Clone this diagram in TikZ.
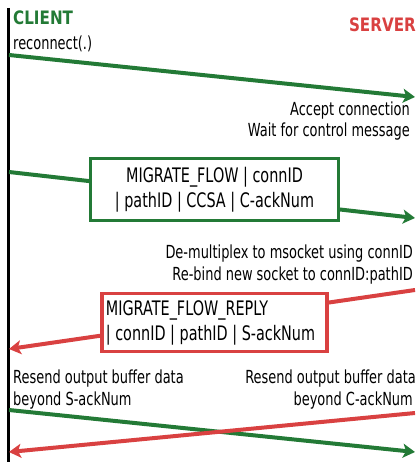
\documentclass[tikz,border=0pt]{standalone}
\usepackage{fontspec}
\setmainfont{DejaVu Sans}[FakeStretch=0.72]
\newfontfamily\headfont{DejaVu Sans}[FakeStretch=0.82]
\usetikzlibrary{arrows.meta}
\definecolor{cligreen}{HTML}{237A36}
\definecolor{srvred}{HTML}{D94141}
\tikzset{
  lbl/.style={inner sep=0pt, font=\fontsize{18}{21.5}\selectfont},
  head/.style={inner sep=0pt, font=\headfont\bfseries\fontsize{18.5}{21}\selectfont},
  msg/.style={line width=4pt, -{Stealth[length=12pt, width=14pt, inset=3pt]}},
  pkt/.style={line width=3.8pt, fill=white, inner sep=4pt,
              font=\fontsize{20}{25}\selectfont},
}
\begin{document}
\begin{tikzpicture}[x=1pt, y=-1pt]
  \useasboundingbox (0,0) rectangle (415,462);

  % client timeline
  \coordinate (ctop) at (8.7,8);
  \coordinate (cbot) at (8.7,462);
  \draw[line width=3pt] (ctop) -- (cbot);

  % headings
  \node[head, text=cligreen, anchor=base west] (client) at (13,25) {CLIENT};
  \node[head, text=srvred, anchor=base east] (server) at (416,32) {SERVER};
  \node[lbl, anchor=base west] (reconn) at (13,50) {reconnect(.)};

  % reconnect
  \coordinate (c1) at (9,55);
  \coordinate (s1) at (415,97);
  \draw[msg, cligreen] (c1) -- (s1);
  \node[lbl, anchor=base east] (acc1) at (410,116) {Accept connection};
  \node[lbl, anchor=base east] (acc2) at (410,137) {Wait for control message};

  % migrate flow request
  \coordinate (c2) at (9,172);
  \coordinate (s2) at (415,218);
  \draw[msg, cligreen] (c2) -- (s2);
  \node[pkt, draw=cligreen, align=center, minimum width=248pt, minimum height=62pt]
    (mf) at (214.5,189.5) {MIGRATE\_FLOW | connID\\| pathID | CCSA | C-ackNum};

  \node[lbl, anchor=base east] (dm1) at (413,258) {De-multiplex to msocket using connID};
  \node[lbl, anchor=base east] (dm2) at (413,280) {Re-bind new socket to connID:pathID};

  % migrate flow reply
  \coordinate (s3) at (415,290);
  \coordinate (c3) at (9,349);
  \draw[msg, srvred] (s3) -- (c3);
  \node[pkt, draw=srvred, align=left, anchor=west, inner xsep=4pt,
        minimum height=58pt]
    (mfr) at (100,322.5)
    {MIGRATE\_FLOW\_REPLY\\| connID | pathID | S-ackNum\hspace*{8pt}};

  % resend notes
  \node[lbl, anchor=base west] (rs1) at (13,383) {Resend output buffer data};
  \node[lbl, anchor=base west] (rs2) at (13,405) {beyond S-ackNum};
  \node[lbl, anchor=base east] (rs3) at (416,383) {Resend output buffer data};
  \node[lbl, anchor=base east] (rs4) at (413,405) {beyond C-ackNum};

  % crossing data streams
  \coordinate (c4) at (9,410);
  \coordinate (s4) at (415,452);
  \coordinate (s5) at (415,413);
  \coordinate (c5) at (9,452);
  \draw[msg, cligreen] (c4) -- (s4);
  \draw[msg, srvred] (s5) -- (c5);
\end{tikzpicture}
\end{document}
